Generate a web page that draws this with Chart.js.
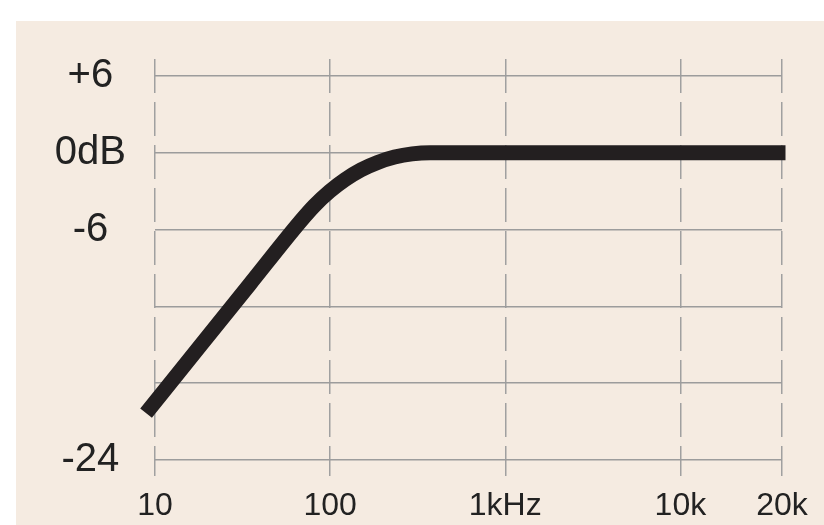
<!DOCTYPE html>
<html>
<head>
<meta charset="utf-8">
<script src="https://cdn.jsdelivr.net/npm/chart.js@4"></script>
<style>
body{margin:0;background:#fff;}
#box{position:absolute;left:16px;top:21px;width:808px;height:504px;background:#f5ebe1;}
</style>
</head>
<body>
<div id="box"><canvas id="chartarea"></canvas></div>
<script>
// curve: x in decades (1 = 10Hz, 2 = 100Hz ...), y in dB
const freqPos=[0.949,1.26,1.54,1.829,1.911,1.997,2.085,2.176,2.271,2.368,2.468,2.571,4.6];
const gainDb=[-20.34,-15.05,-10.29,-5.38,-4.12,-3.02,-2.1,-1.34,-0.76,-0.34,-0.09,0,0];

const xTickPos=[1,2,3,4,4.58];
const xTickLabels=["10","100","1kHz","10k","20k"];
const yTickVals=[-24,-18,-12,-6,0,6];
const yTickLabels=["-24","","","-6","0dB","+6"];

const points=freqPos.map((v,i)=>({x:v,y:gainDb[i]}));
const font="'Liberation Sans', Arial, sans-serif";

new Chart(document.querySelector("#chartarea"),{
  type:"line",
  data:{
    datasets:[{
      data:points,
      borderColor:"#231f20",
      borderWidth:15,
      borderCapStyle:"butt",
      borderJoinStyle:"round",
      cubicInterpolationMode:"monotone",
      pointRadius:0,
      clip:false
    }]
  },
  options:{
    responsive:true,
    maintainAspectRatio:false,
    animation:false,
    layout:{padding:{top:38,right:42,left:0,bottom:0}},
    plugins:{legend:{display:false},tooltip:{enabled:false}},
    scales:{
      x:{
        type:"linear",
        min:1,
        max:4.58,
        afterBuildTicks:axis=>{axis.ticks=xTickPos.map(v=>({value:v}));},
        afterFit:s=>{s.height=49;},
        grid:{color:"#a0a0a0",lineWidth:1.5,drawTicks:false},
        border:{display:false,dash:[34,9]},
        ticks:{
          autoSkip:false,
          maxRotation:0,
          padding:11,
          color:"#222",
          font:{family:font,size:32},
          callback:(v,i)=>xTickLabels[i]
        }
      },
      y:{
        min:-25.25,
        max:7.32,
        afterBuildTicks:axis=>{axis.ticks=yTickVals.map(v=>({value:v}));},
        // labels sit well inside the plot height, no extra room needed above/below
        afterFit:s=>{s.width=139;s.paddingTop=0;s.paddingBottom=0;},
        grid:{color:"#9c9c9c",lineWidth:1.5,drawTicks:false},
        border:{display:false},
        ticks:{
          autoSkip:false,
          crossAlign:"center",
          padding:29,
          color:"#222",
          font:{family:font,size:40},
          callback:(v,i)=>yTickLabels[i]
        }
      }
    }
  }
});
</script>
</body>
</html>
